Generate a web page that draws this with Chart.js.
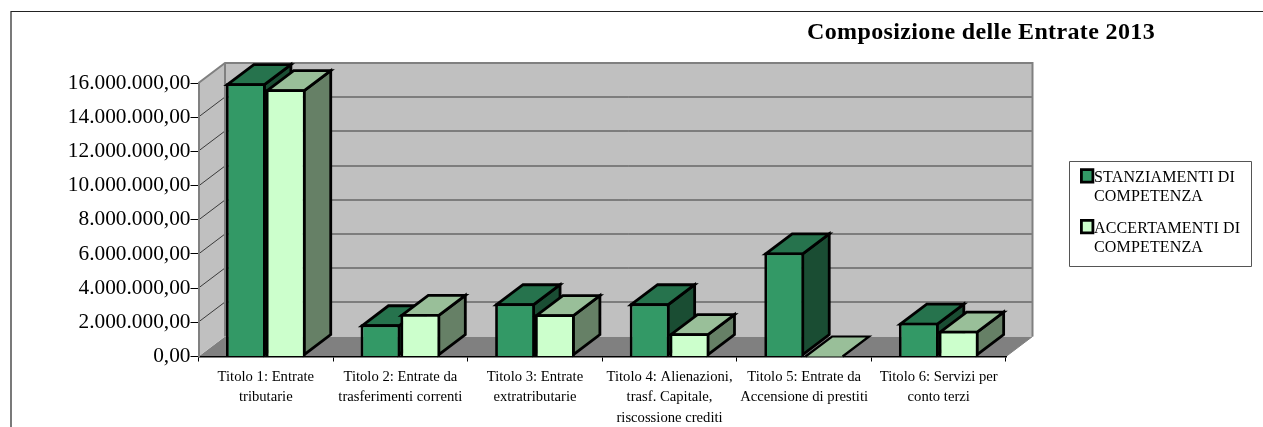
<!DOCTYPE html>
<html>
<head>
<meta charset="utf-8">
<style>html,body{margin:0;padding:0;background:#fff}canvas{display:block}</style>
<script src="https://cdn.jsdelivr.net/npm/chart.js@4/dist/chart.umd.min.js"></script>
</head>
<body>
<canvas id="c" width="1263" height="427"></canvas>
<script>
const categories = [
  ["Titolo 1: Entrate", "tributarie"],
  ["Titolo 2: Entrate da", "trasferimenti correnti"],
  ["Titolo 3: Entrate", "extratributarie"],
  ["Titolo 4: Alienazioni,", "trasf. Capitale,", "riscossione crediti"],
  ["Titolo 5: Entrate da", "Accensione di prestiti"],
  ["Titolo 6: Servizi per", "conto terzi"]
];
const stanziamenti = [15990000, 1880000, 3110000, 3110000, 6090000, 1980000];
const accertamenti = [15630000, 2490000, 2470000, 1360000, 0, 1510000];
const seriesNames = ["STANZIAMENTI DI COMPETENZA", "ACCERTAMENTI DI COMPETENZA"];
const legendLines = [["STANZIAMENTI DI", "COMPETENZA"], ["ACCERTAMENTI DI", "COMPETENZA"]];
const titleText = "Composizione delle Entrate 2013";

const SERIF = '"Liberation Serif","Times New Roman",serif';
const DX = 26.5, DY = 20, EDGE = 2.8;
const shades = [
  {front:'#339966', top:'#26734d', side:'#1a4d33'},
  {front:'#ccffcc', top:'#99bf99', side:'#668066'}
];

function poly(ctx, pts, fill, stroke, lw){
  ctx.beginPath();
  pts.forEach((p,i)=> i ? ctx.lineTo(p[0],p[1]) : ctx.moveTo(p[0],p[1]));
  ctx.closePath();
  if(fill){ctx.fillStyle=fill;ctx.fill();}
  if(stroke){ctx.strokeStyle=stroke;ctx.lineWidth=lw;ctx.lineJoin='miter';ctx.stroke();}
}

function drawFaces(ctx, meta, s){
  ctx.save();
  meta.data.forEach(b=>{
    const h=b.getProps(['x','y','base','width'],true);
    const i=EDGE/2;
    const L=h.x-h.width/2+i,R=h.x+h.width/2-i;
    if(h.base-h.y<EDGE){
      // empty bar: only the flat lid on the floor
      poly(ctx,[[L,h.base],[L+DX,h.base-DY],[R+DX,h.base-DY],[R,h.base]],s.top);
      ctx.strokeStyle='#000';ctx.lineWidth=EDGE-0.6;
      ctx.beginPath();
      ctx.moveTo(L,h.base);ctx.lineTo(L+DX,h.base-DY);ctx.lineTo(R+DX,h.base-DY);ctx.lineTo(R,h.base);
      ctx.stroke();
      return;
    }
    const B=h.base-i, top=h.y+i;
    poly(ctx,[[R,B],[R,top],[R+DX,top-DY],[R+DX,B-DY]],s.side,'#000',EDGE);
    poly(ctx,[[L,top],[L+DX,top-DY],[R+DX,top-DY],[R,top]],s.top,'#000',EDGE);
  });
  ctx.restore();
}

const scene = {
  id:'scene',
  beforeDraw(chart){
    const {ctx, chartArea:a, scales:{y}} = chart;
    ctx.save();
    ctx.fillStyle='#fff'; ctx.fillRect(0,0,chart.width,chart.height);
    // page frame
    ctx.strokeStyle='#222'; ctx.lineWidth=1.2;
    ctx.beginPath(); ctx.moveTo(11,427); ctx.lineTo(11,11.5); ctx.lineTo(1263,11.5); ctx.stroke();
    // floor, side wall, back wall
    poly(ctx,[[a.left,a.bottom],[a.left+DX,a.bottom-DY],[a.right+DX,a.bottom-DY],[a.right,a.bottom]],'#808080');
    poly(ctx,[[a.left,a.bottom],[a.left,a.top],[a.left+DX,a.top-DY],[a.left+DX,a.bottom-DY]],'#c0c0c0');
    poly(ctx,[[a.left+DX,a.bottom-DY],[a.left+DX,a.top-DY],[a.right+DX,a.top-DY],[a.right+DX,a.bottom-DY]],'#c0c0c0');
    // grid lines follow the value axis on both walls
    ctx.strokeStyle='#3a3a3a'; ctx.lineWidth=1;
    y.ticks.forEach(t=>{
      if(t.value===y.min||t.value===y.max) return;
      const py=Math.round(y.getPixelForValue(t.value));
      ctx.beginPath();
      ctx.moveTo(a.left,py); ctx.lineTo(a.left+DX,py-DY); ctx.lineTo(a.right+DX,py-DY);
      ctx.stroke();
    });
    // wall edges
    ctx.strokeStyle='#808080'; ctx.lineWidth=2;
    ctx.beginPath();
    ctx.moveTo(a.left,a.top); ctx.lineTo(a.left+DX,a.top-DY); ctx.lineTo(a.right+DX,a.top-DY); ctx.lineTo(a.right+DX,a.bottom-DY);
    ctx.moveTo(a.left+DX,a.top-DY); ctx.lineTo(a.left+DX,a.bottom-DY);
    ctx.stroke();
    ctx.lineWidth=1;
    ctx.beginPath(); ctx.moveTo(a.right,a.bottom); ctx.lineTo(a.right+DX,a.bottom-DY); ctx.stroke();
    ctx.restore();
  },
  beforeDatasetDraw(chart,args){
    // the second series has to sit in front of the first: it is drawn last, below
    if(args.index===1) return false;
    drawFaces(chart.ctx,args.meta,shades[0]);
  },
  afterDatasetsDraw(chart){
    const meta=chart.getDatasetMeta(1);
    drawFaces(chart.ctx,meta,shades[1]);
    meta.controller.draw();
  },
  afterDraw(chart){
    const {ctx}=chart;
    ctx.save();
    // title
    ctx.fillStyle='#000';
    ctx.textAlign='left'; ctx.textBaseline='alphabetic';
    ctx.font='bold 24px '+SERIF;
    ctx.letterSpacing='0.37px';
    ctx.fillText(titleText,807,39);
    // legend
    ctx.letterSpacing='0.15px';
    ctx.fillStyle='#fff'; ctx.strokeStyle='#555'; ctx.lineWidth=1;
    ctx.beginPath(); ctx.rect(1069.5,161.5,182,105); ctx.fill(); ctx.stroke();
    const swY=[169.7,220.4], baseY=[[181.5,200.5],[232.5,251.5]];
    legendLines.forEach((lines,i)=>{
      ctx.fillStyle=shades[i].front; ctx.strokeStyle='#000'; ctx.lineWidth=EDGE;
      ctx.beginPath(); ctx.rect(1081.4,swY[i],11.5,12.5); ctx.fill(); ctx.stroke();
      ctx.fillStyle='#000'; ctx.font='16px '+SERIF;
      lines.forEach((t,j)=>ctx.fillText(t,1094,baseY[i][j]));
    });
    ctx.restore();
  }
};

new Chart(document.getElementById('c'),{
  type:'bar',
  data:{
    labels:categories,
    datasets:[
      {label:seriesNames[0],data:stanziamenti,backgroundColor:shades[0].front,borderColor:'#000',borderWidth:EDGE},
      {label:seriesNames[1],data:accertamenti,backgroundColor:shades[1].front,borderColor:'#000',borderWidth:EDGE}
    ]
  },
  plugins:[scene],
  options:{
    responsive:false,
    animation:false,
    layout:{padding:{left:0,right:257,top:83,bottom:0}},
    plugins:{legend:{display:false},title:{display:false},tooltip:{enabled:false}},
    datasets:{bar:{categoryPercentage:0.592,barPercentage:1}},
    scales:{
      x:{
        afterFit(s){s.height=70.5;},
        grid:{drawOnChartArea:false,drawTicks:true,tickLength:5,color:'#000',lineWidth:1},
        border:{color:'#000',width:1.5},
        ticks:{color:'#000',font:{family:SERIF,size:14.67,lineHeight:1.4},padding:5,maxRotation:0,minRotation:0,autoSkip:false}
      },
      y:{
        min:0,max:16000000,
        afterFit(s){s.width=198.5;},
        grid:{drawOnChartArea:false,drawTicks:true,tickLength:8,color:'#000',lineWidth:1},
        border:{color:'#808080',width:2},
        ticks:{stepSize:2000000,color:'#000',padding:0,font:{family:SERIF,size:21.33},
          callback(v){return v.toLocaleString('it-IT',{minimumFractionDigits:2,maximumFractionDigits:2});}}
      }
    }
  }
});
</script>
</body>
</html>
